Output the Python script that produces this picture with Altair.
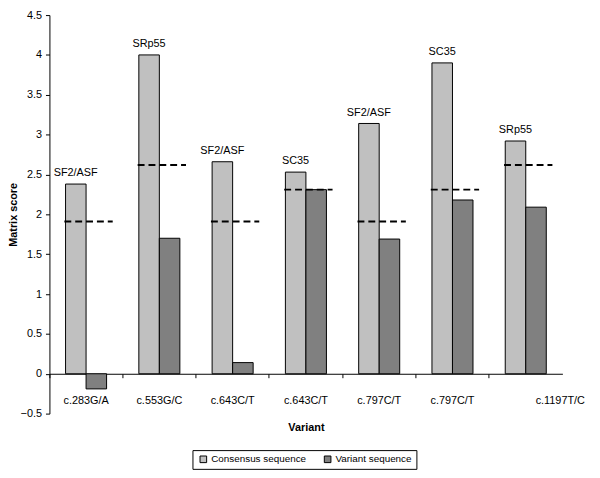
import json
import altair as alt
import pandas as pd

names = ["c.283G/A", "c.553G/C", "c.643C/T", "c.643C/T", "c.797C/T", "c.797C/T", "c.1197T/C"]
factors = ["SF2/ASF", "SRp55", "SF2/ASF", "SC35", "SF2/ASF", "SC35", "SRp55"]
consensus = [2.38, 4.00, 2.66, 2.53, 3.14, 3.90, 2.92]
variant = [-0.19, 1.70, 0.14, 2.31, 1.69, 2.18, 2.09]
thresholds = [1.91, 2.62, 1.91, 2.31, 1.91, 2.31, 2.62]
series = ["Consensus sequence", "Variant sequence"]
y_ticks = [-0.5, 0, 0.5, 1, 1.5, 2, 2.5, 3, 3.5, 4, 4.5]

W, H = 520, 404
FONT = "Liberation Sans"

rows = []
for i in range(len(names)):
    rows.append({"idx": i, "series": series[0], "value": consensus[i]})
    rows.append({"idx": i, "series": series[1], "value": variant[i]})
bars_df = pd.DataFrame(rows)
cat_df = pd.DataFrame({"idx": list(range(len(names))), "factor": factors,
                       "top": consensus, "thr": thresholds})

label_expr = json.dumps(names) + "[datum.value]"

x_enc = alt.X("idx:O",
              scale=alt.Scale(paddingInner=0, paddingOuter=0),
              axis=alt.Axis(title="Variant", bandPosition=0, labelExpr=label_expr,
                            labelAngle=0, labelFontSize=11, labelFont=FONT, labelColor="black",
                            labelOffset={"condition": {"test": "datum.value == 6", "value": 35},
                                         "value": 0},
                            labelOverlap=False,
                            labelPadding=17, tickSize=4, tickColor="black", domainColor="black",
                            offset=-H * 0.5 / 5, titleFontSize=11, titleFont=FONT,
                            titleFontWeight="bold", titlePadding=17, titleColor="black"))
y_enc = alt.Y("value:Q",
              scale=alt.Scale(domain=[-0.5, 4.5], nice=False, zero=False),
              axis=alt.Axis(title="Matrix score", values=y_ticks, format="~g", grid=False,
                            labelOverlap=False,
                            labelFontSize=11, labelFont=FONT, labelColor="black", tickSize=4,
                            tickColor="black", domainColor="black", labelPadding=4,
                            titleFontSize=11, titleFont=FONT, titleFontWeight="bold",
                            titleColor="black", titlePadding=2))

bars = alt.Chart(bars_df).mark_bar(stroke="black", strokeWidth=1).encode(
    x=x_enc,
    xOffset=alt.XOffset("series:N", scale=alt.Scale(domain=series, paddingInner=0, paddingOuter=0.786)),
    y=y_enc,
    color=alt.Color("series:N", scale=alt.Scale(domain=series, range=["#c0c0c0", "#808080"]),
                    legend=alt.Legend(title=None, orient="none", legendX=145, legendY=441,
                                      direction="horizontal", symbolType="square", symbolSize=45,
                                      symbolStrokeColor="black", symbolStrokeWidth=1,
                                      labelFontSize=10, labelFont=FONT, labelColor="black",
                                      strokeColor="black", padding=4, columnPadding=14,
                                      symbolOffset=2, labelOffset=3)),
)

rules = alt.Chart(cat_df).mark_rule(color="black", strokeWidth=2, strokeDash=[7, 4],
                                    xOffset=-22, x2Offset=27).encode(
    x=alt.X("idx:O"), x2=alt.X2("idx"), y=alt.Y("thr:Q"))

labels = alt.Chart(cat_df).mark_text(fontSize=11, font=FONT, color="black", baseline="bottom",
                                     dx=-10.5, dy=-6).encode(
    x=alt.X("idx:O"), y=alt.Y("top:Q"), text="factor:N")

chart = alt.layer(bars, rules, labels).properties(
    width=W, height=H,
    autosize=alt.AutoSizeParams(type="none"),
    padding={"left": 42, "top": 4, "right": 30, "bottom": 55},
    background="white",
).configure_view(stroke=None)

chart.save("out.html", embed_options={"renderer": "svg", "actions": False})
